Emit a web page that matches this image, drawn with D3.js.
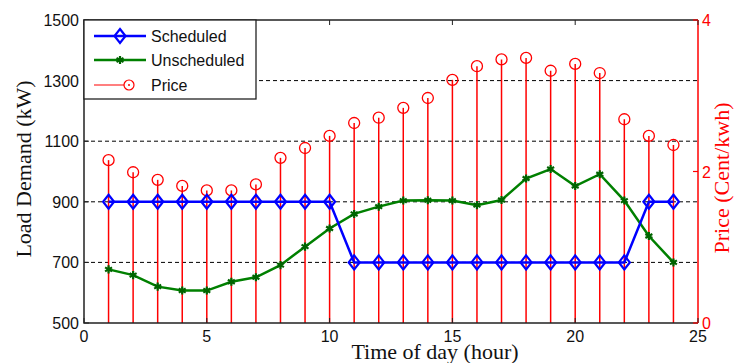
<!DOCTYPE html>
<html>
<head>
<meta charset="utf-8">
<script src="https://cdn.jsdelivr.net/npm/d3@7"></script>
<style>
  body { margin: 0; background: #fff; }
  svg { display: block; }
  .tick-lab { font-family: "Liberation Sans", Arial, sans-serif; font-size: 16px; }
  .ax-title { font-family: "Liberation Serif", "Times New Roman", serif; font-size: 22px; }
</style>
</head>
<body>
<svg id="chart" width="736" height="363"></svg>
<script>
// hourly data
const hours = d3.range(1, 25);
const scheduled = [900, 900, 900, 900, 900, 900, 900, 900, 900, 900,
                   700, 700, 700, 700, 700, 700, 700, 700, 700, 700, 700, 700,
                   900, 900];
const unscheduled = [677, 658, 620, 607, 607, 636, 651, 691, 752, 812, 860, 884,
                     904, 905, 904, 889, 906, 977, 1008, 952, 991, 904, 787, 700];
const price = [2.15, 1.99, 1.89, 1.81, 1.75, 1.75, 1.83, 2.18, 2.31, 2.47, 2.64, 2.71,
               2.84, 2.97, 3.21, 3.39, 3.48, 3.50, 3.33, 3.42, 3.30, 2.69, 2.47, 2.35];
const xTicks = [0, 5, 10, 15, 20, 25];
const loadTicks = [500, 700, 900, 1100, 1300, 1500];
const gridTicks = [700, 900, 1100, 1300];
const priceTicks = [0, 2, 4];
const legendItems = ["Scheduled", "Unscheduled", "Price"];

const svg = d3.select("#chart");
const L = 84, R = 698, T = 20, B = 323;

const x = d3.scaleLinear().domain([0, 25]).range([L, R]);
const yL = d3.scaleLinear().domain([500, 1500]).range([B, T]);
const yR = d3.scaleLinear().domain([0, 4]).range([B, T]);

const blue = "#0000ff", green = "#008000", red = "#ff0000";

// dashed grid
svg.append("g").selectAll("line").data(gridTicks).enter().append("line")
  .attr("x1", L).attr("x2", R).attr("y1", d => yL(d)).attr("y2", d => yL(d))
  .attr("stroke", "#000").attr("stroke-width", 1).attr("stroke-dasharray", "4,3");

// price stems
const stems = svg.append("g");
stems.selectAll("line").data(hours).enter().append("line")
  .attr("x1", d => x(d)).attr("x2", d => x(d))
  .attr("y1", yR(0)).attr("y2", (d, i) => yR(price[i]))
  .attr("stroke", red).attr("stroke-width", 1.5);
stems.selectAll("circle").data(hours).enter().append("circle")
  .attr("cx", d => x(d)).attr("cy", (d, i) => yR(price[i])).attr("r", 5.5)
  .attr("fill", "none").attr("stroke", red).attr("stroke-width", 1.3);

// load lines
const lineL = (vals) => d3.line().x(d => x(d)).y((d, i) => yL(vals[i]))(hours);
svg.append("path").attr("d", lineL(unscheduled)).attr("fill", "none")
  .attr("stroke", green).attr("stroke-width", 2.5);
svg.append("path").attr("d", lineL(scheduled)).attr("fill", "none")
  .attr("stroke", blue).attr("stroke-width", 2.5);

const diamond = "M0,-7L5.5,0L0,7L-5.5,0Z";
const star = d3.symbol().type(d3.symbolAsterisk).size(45);
svg.append("g").selectAll("path").data(hours).enter().append("path")
  .attr("d", star).attr("transform", (d, i) => `translate(${x(d)},${yL(unscheduled[i])})`)
  .attr("fill", "none").attr("stroke", "#006400").attr("stroke-width", 2.2);
svg.append("g").selectAll("path").data(hours).enter().append("path")
  .attr("d", diamond).attr("transform", (d, i) => `translate(${x(d)},${yL(scheduled[i])})`)
  .attr("fill", "none").attr("stroke", blue).attr("stroke-width", 2.2);

// frame
svg.append("path").attr("d", `M${R},${T}H${L}V${B}H${R}`)
  .attr("fill", "none").attr("stroke", "#222").attr("stroke-width", 1.5);
svg.append("line").attr("x1", R).attr("x2", R).attr("y1", T).attr("y2", B)
  .attr("stroke", red).attr("stroke-width", 1.5);

// x axis ticks
const xt = svg.append("g");
xt.selectAll("line.b").data(xTicks).enter().append("line")
  .attr("x1", d => x(d)).attr("x2", d => x(d)).attr("y1", B).attr("y2", B - 5)
  .attr("stroke", "#222");
xt.selectAll("line.t").data(xTicks).enter().append("line")
  .attr("x1", d => x(d)).attr("x2", d => x(d)).attr("y1", T).attr("y2", T + 5)
  .attr("stroke", "#222");
xt.selectAll("text").data(xTicks).enter().append("text")
  .attr("class", "tick-lab").attr("x", d => x(d)).attr("y", 342)
  .attr("text-anchor", "middle").attr("fill", "#111").text(d => d);

// left axis ticks
const yt = svg.append("g");
yt.selectAll("line").data(loadTicks).enter().append("line")
  .attr("x1", L).attr("x2", L + 5).attr("y1", d => yL(d)).attr("y2", d => yL(d))
  .attr("stroke", "#222");
yt.selectAll("text").data(loadTicks).enter().append("text")
  .attr("class", "tick-lab").attr("x", 79).attr("y", d => yL(d) + 6)
  .attr("text-anchor", "end").attr("fill", "#111").text(d => d);

// right axis ticks
const rt = svg.append("g");
rt.selectAll("line").data(priceTicks).enter().append("line")
  .attr("x1", R).attr("x2", R - 5).attr("y1", d => yR(d)).attr("y2", d => yR(d))
  .attr("stroke", red).attr("stroke-width", 1.2);
rt.selectAll("text").data(priceTicks).enter().append("text")
  .attr("class", "tick-lab").attr("x", 702).attr("y", d => yR(d) + 6)
  .attr("fill", red).text(d => d);

// axis titles
svg.append("text").attr("class", "ax-title").attr("text-anchor", "middle")
  .attr("x", 435).attr("y", 359).attr("fill", "#111").text("Time of day (hour)");
svg.append("text").attr("class", "ax-title").attr("text-anchor", "middle")
  .attr("transform", "translate(31,169) rotate(-90)").attr("fill", "#111").text("Load Demand (kW)");
svg.append("text").attr("class", "ax-title").attr("text-anchor", "middle")
  .attr("transform", "translate(729,178) rotate(-90)").attr("fill", red).text("Price (Cent/kwh)");

// legend
const lg = svg.append("g");
lg.append("rect").attr("x", L).attr("y", T).attr("width", 172).attr("height", 79)
  .attr("fill", "#fff").attr("stroke", "#222").attr("stroke-width", 1.3);
const rowY = [36, 60, 85];
legendItems.forEach((name, i) => {
  const yy = rowY[i];
  if (i < 2) {
    lg.append("line").attr("x1", 94).attr("x2", 146).attr("y1", yy).attr("y2", yy)
      .attr("stroke", i === 0 ? blue : green).attr("stroke-width", 2.5);
    if (i === 0) {
      lg.append("path").attr("d", diamond).attr("transform", `translate(120,${yy})`)
        .attr("fill", "none").attr("stroke", blue).attr("stroke-width", 2.2);
    } else {
      lg.append("path").attr("d", star).attr("transform", `translate(120,${yy})`)
        .attr("fill", "none").attr("stroke", "#006400").attr("stroke-width", 2.2);
    }
  } else {
    lg.append("line").attr("x1", 94).attr("x2", 129).attr("y1", yy).attr("y2", yy)
      .attr("stroke", red).attr("stroke-width", 1.2);
    lg.append("circle").attr("cx", 129).attr("cy", yy).attr("r", 5)
      .attr("fill", "#fff").attr("stroke", red).attr("stroke-width", 1.2);
    lg.append("circle").attr("cx", 129).attr("cy", yy).attr("r", 1)
      .attr("fill", red);
  }
  lg.append("text").attr("class", "tick-lab").attr("x", 151).attr("y", yy + 6)
    .attr("fill", "#111").text(name);
});
</script>
</body>
</html>
